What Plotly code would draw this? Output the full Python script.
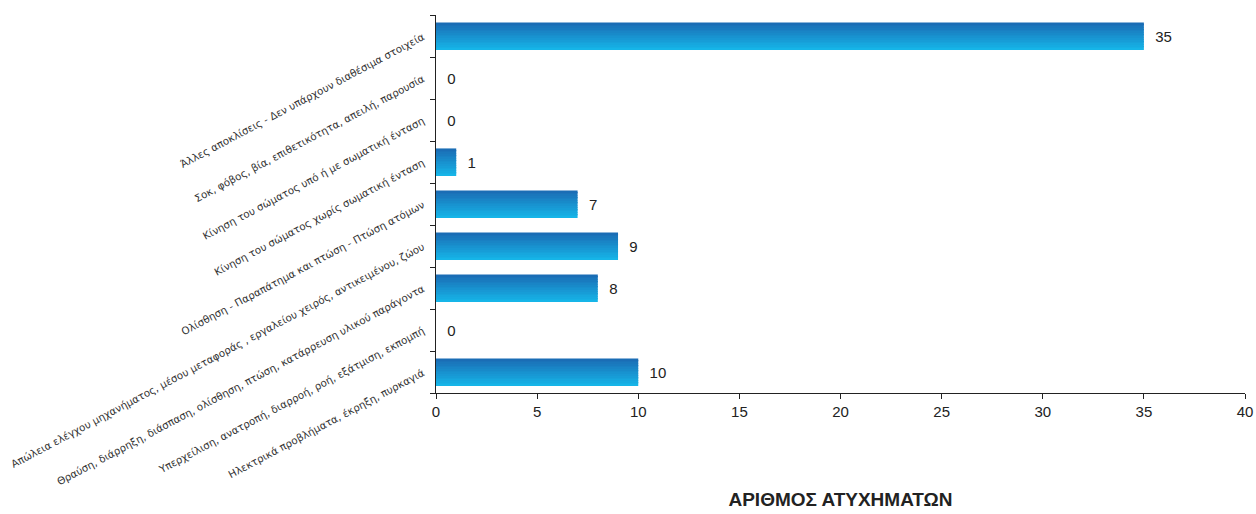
import numpy as np
import plotly.graph_objects as go

categories = [
    "Ηλεκτρικά προβλήματα, έκρηξη, πυρκαγιά",
    "Υπερχείλιση, ανατροπή, διαρροή, ροή, εξάτμιση, εκπομπή",
    "Θραύση, διάρρηξη, διάσπαση, ολίσθηση, πτώση, κατάρρευση υλικού παράγοντα",
    "Απώλεια ελέγχου μηχανήματος, μέσου μεταφοράς , εργαλείου χειρός, αντικειμένου, ζώου",
    "Ολίσθηση - Παραπάτημα και πτώση - Πτώση ατόμων",
    "Κίνηση του σώματος χωρίς σωματική ένταση",
    "Κίνηση του σώματος υπό ή με σωματική ένταση",
    "Σοκ, φόβος, βία, επιθετικότητα, απειλή, παρουσία",
    "Άλλες αποκλίσεις - Δεν υπάρχουν διαθέσιμα στοιχεία",
]
accidents = [10, 0, 8, 9, 7, 1, 0, 0, 35]
x_ticks = [0, 5, 10, 15, 20, 25, 30, 35, 40]

top_color = np.array([0x1b, 0x6b, 0xb4])
bottom_color = np.array([0x16, 0xb8, 0xea])

fig = go.Figure()

# gradient: split every bar into thin horizontal strips
bar_width = 0.64
n_strips = 16
strip = bar_width / n_strips
for k in range(n_strips):
    t = (k + 0.5) / n_strips
    c = bottom_color + (top_color - bottom_color) * t
    fig.add_trace(go.Bar(
        y=categories, x=accidents, orientation="h",
        width=strip * 1.08, offset=-bar_width / 2 + k * strip,
        marker=dict(color="rgb(%d,%d,%d)" % tuple(c.astype(int)), line_width=0),
        hoverinfo="skip", showlegend=False,
    ))

# value labels
fig.add_trace(go.Bar(
    y=categories, x=accidents, orientation="h",
    width=bar_width, offset=-bar_width / 2,
    marker=dict(color="rgba(0,0,0,0)", line_width=0),
    text=["  " + str(v) for v in accidents], textposition="outside",
    textfont=dict(family="Liberation Sans, Arial", size=15, color="#222"),
    cliponaxis=False, showlegend=False,
))

fig.update_layout(
    width=1256, height=510, autosize=False,
    barmode="overlay",
    margin=dict(l=436, r=3, t=15, b=105),
    plot_bgcolor="white", paper_bgcolor="white",
    xaxis=dict(
        range=[0, 40], tickvals=x_ticks, showgrid=False, zeroline=False,
        showline=True, linecolor="#222", linewidth=1,
        ticks="outside", ticklen=5, tickcolor="#222", ticklabeloverflow="allow",
        tickfont=dict(family="Liberation Sans, Arial", size=15, color="#222"),
        title=dict(text="<b>ΑΡΙΘΜΟΣ ΑΤΥΧΗΜΑΤΩΝ</b>", standoff=74,
                   font=dict(family="Liberation Sans, Arial", size=19, color="#222")),
    ),
    yaxis=dict(
        showgrid=False, zeroline=False, showline=True, linecolor="#222", linewidth=1,
        ticks="outside", ticklen=5, tickcolor="#222", tickson="boundaries",
        tickangle=-28, automargin=False, ticklabelstandoff=10,
        tickfont=dict(family="DejaVu Sans", size=10.3, color="#333"),
    ),
)

# drop the default body margin so the figure sits at the window's corner
fig.write_html(
    "out.html",
    config={"displayModeBar": False, "responsive": False},
    post_script="document.body.style.margin = '0';",
)
